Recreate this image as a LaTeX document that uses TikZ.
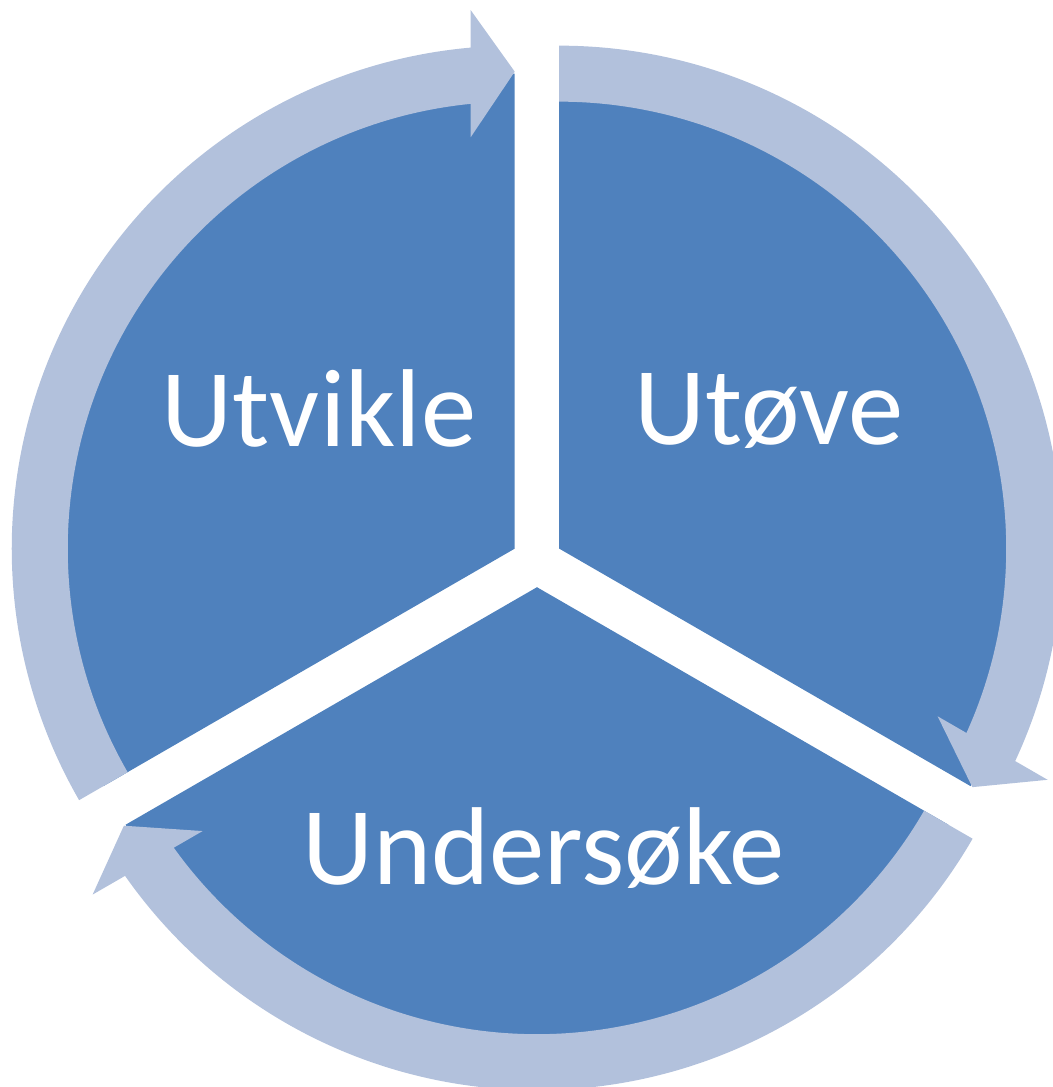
\documentclass[tikz,border=0pt]{standalone}
\usepackage{fontspec}
\setmainfont{Carlito}
\definecolor{segblue}{RGB}{79,129,189}
\definecolor{ringblue}{RGB}{178,193,220}

\begin{document}
\begin{tikzpicture}[segment/.style={fill=segblue}, ring/.style={fill=ringblue}, steplabel/.style={text=white, font=\fontsize{31.5}{36}\selectfont, anchor=base, inner sep=0pt}]

    \useasboundingbox (-5.37,-5.255) rectangle (5.16,5.615);

    % pie pieces, each pushed out from the middle
    \foreach \rot in {0,-120,120} {
      \begin{scope}[rotate=\rot, shift={(150:0.257)}]
        \fill[segment] (0,0) -- (210:4.75) arc[start angle=210, end angle=90, radius=4.75] -- cycle;
      \end{scope}
    }
    % arrows round the pieces
    \foreach \rot in {0,-120,120} {
      \begin{scope}[rotate=\rot, shift={(150:0.257)}]
        \fill[ring] (210:5.03) arc[start angle=210, end angle=95.02, radius=5.03] -- (-0.44,5.385) -- (0,4.77) -- (-0.44,4.115) -- (95.65:4.47) arc[start angle=95.65, end angle=210, radius=4.47] -- cycle;
      \end{scope}
    }

    \node[steplabel] (utvikle) at (-2.18,1.155) {Utvikle};
    \node[steplabel] (utove) at (2.32,1.175) {Utøve};
    \node[steplabel] (undersoke) at (0.065,-3.23) {Undersøke};
  \end{tikzpicture}
\end{document}
